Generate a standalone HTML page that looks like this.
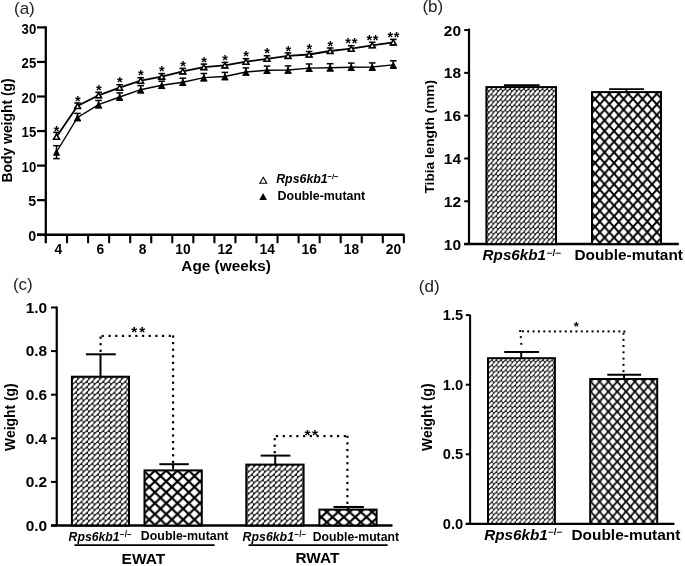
<!DOCTYPE html><html><head><meta charset="utf-8"><title>Figure</title><style>html,body{margin:0;padding:0;background:#fff;width:685px;height:566px;overflow:hidden}svg text{font-family:"Liberation Sans", sans-serif}</style></head><body><svg width="685" height="566" viewBox="0 0 685 566" style="display:block;font-family:'Liberation Sans',sans-serif;filter:grayscale(1) blur(0.35px)"><defs><pattern id="hb" patternUnits="userSpaceOnUse" x="0.6" y="0" width="4.64" height="5.3"><rect width="4.64" height="5.3" fill="#000"/><path d="M-3.550,-1.240L-1.090,-4.060M-3.550,4.060L-1.090,1.240M-3.550,9.360L-1.090,6.540M1.090,-1.240L3.550,-4.060M1.090,4.060L3.550,1.240M1.090,9.360L3.550,6.540M5.730,-1.240L8.190,-4.060M5.730,4.060L8.190,1.240M5.730,9.360L8.190,6.540" stroke="#fff" stroke-width="2.6" stroke-linecap="round"/></pattern><pattern id="hc" patternUnits="userSpaceOnUse" x="0" y="0" width="5.5" height="5.47"><rect width="5.5" height="5.47" fill="#000"/><path d="M-4.260,-1.235L-1.240,-4.235M-4.260,4.235L-1.240,1.235M-4.260,9.705L-1.240,6.705M1.240,-1.235L4.260,-4.235M1.240,4.235L4.260,1.235M1.240,9.705L4.260,6.705M6.740,-1.235L9.760,-4.235M6.740,4.235L9.760,1.235M6.740,9.705L9.760,6.705" stroke="#fff" stroke-width="2.85" stroke-linecap="round"/></pattern><pattern id="hd" patternUnits="userSpaceOnUse" x="1.0" y="0.5" width="4.64" height="5.08"><rect width="4.64" height="5.08" fill="#000"/><path d="M-3.535,-1.210L-1.105,-3.870M-3.535,3.870L-1.105,1.210M-3.535,8.950L-1.105,6.290M1.105,-1.210L3.535,-3.870M1.105,3.870L3.535,1.210M1.105,8.950L3.535,6.290M5.745,-1.210L8.175,-3.870M5.745,3.870L8.175,1.210M5.745,8.950L8.175,6.290" stroke="#fff" stroke-width="2.56" stroke-linecap="round"/></pattern><pattern id="cb" patternUnits="userSpaceOnUse" x="595.05" y="88.4" width="9.5" height="10.65"><rect width="9.5" height="10.65" fill="#fff"/><path d="M0,0L9.5,10.65M9.5,0L0,10.65" stroke="#000" stroke-width="2.0"/></pattern><pattern id="cc" patternUnits="userSpaceOnUse" x="149.25" y="476" width="11.3" height="10.9"><rect width="11.3" height="10.9" fill="#fff"/><path d="M0,0L11.3,10.9M11.3,0L0,10.9" stroke="#000" stroke-width="2.2"/></pattern><pattern id="cc2" patternUnits="userSpaceOnUse" x="321.25" y="517.1" width="11.3" height="10.2"><rect width="11.3" height="10.2" fill="#fff"/><path d="M0,0L11.3,10.2M11.3,0L0,10.2" stroke="#000" stroke-width="2.2"/></pattern><pattern id="cd" patternUnits="userSpaceOnUse" x="590.7" y="381.6" width="8.83" height="10.0"><rect width="8.83" height="10.0" fill="#fff"/><path d="M0,0L8.83,10.0M8.83,0L0,10.0" stroke="#000" stroke-width="1.8"/></pattern></defs><rect width="685" height="566" fill="#fff"/><text x="14.00" y="13.60" font-size="17" font-weight="normal" font-style="normal" text-anchor="start" fill="#222" >(a)</text>
<line x1="45.80" y1="26.30" x2="45.80" y2="243.20" stroke="#000" stroke-width="2.3" />
<line x1="37.00" y1="234.70" x2="45.80" y2="234.70" stroke="#000" stroke-width="2.2" />
<text x="36.20" y="240.90" font-size="14.2" font-weight="bold" font-style="normal" text-anchor="end" fill="#000" >0</text>
<line x1="37.00" y1="200.15" x2="45.80" y2="200.15" stroke="#000" stroke-width="2.2" />
<text x="36.20" y="206.35" font-size="14.2" font-weight="bold" font-style="normal" text-anchor="end" fill="#000" >5</text>
<line x1="37.00" y1="165.60" x2="45.80" y2="165.60" stroke="#000" stroke-width="2.2" />
<text x="36.20" y="171.80" font-size="14.2" font-weight="bold" font-style="normal" text-anchor="end" fill="#000" textLength="14.60" lengthAdjust="spacingAndGlyphs" >10</text>
<line x1="37.00" y1="131.05" x2="45.80" y2="131.05" stroke="#000" stroke-width="2.2" />
<text x="36.20" y="137.25" font-size="14.2" font-weight="bold" font-style="normal" text-anchor="end" fill="#000" textLength="14.60" lengthAdjust="spacingAndGlyphs" >15</text>
<line x1="37.00" y1="96.50" x2="45.80" y2="96.50" stroke="#000" stroke-width="2.2" />
<text x="36.20" y="102.70" font-size="14.2" font-weight="bold" font-style="normal" text-anchor="end" fill="#000" textLength="14.60" lengthAdjust="spacingAndGlyphs" >20</text>
<line x1="37.00" y1="61.95" x2="45.80" y2="61.95" stroke="#000" stroke-width="2.2" />
<text x="36.20" y="68.15" font-size="14.2" font-weight="bold" font-style="normal" text-anchor="end" fill="#000" textLength="14.60" lengthAdjust="spacingAndGlyphs" >25</text>
<line x1="37.00" y1="27.40" x2="45.80" y2="27.40" stroke="#000" stroke-width="2.2" />
<text x="36.20" y="33.60" font-size="14.2" font-weight="bold" font-style="normal" text-anchor="end" fill="#000" textLength="14.60" lengthAdjust="spacingAndGlyphs" >30</text>
<line x1="37.00" y1="234.70" x2="404.50" y2="234.70" stroke="#000" stroke-width="2.4" />
<line x1="67.05" y1="234.70" x2="67.05" y2="243.20" stroke="#000" stroke-width="2.1" />
<line x1="88.10" y1="234.70" x2="88.10" y2="243.20" stroke="#000" stroke-width="2.1" />
<line x1="109.15" y1="234.70" x2="109.15" y2="243.20" stroke="#000" stroke-width="2.1" />
<line x1="130.20" y1="234.70" x2="130.20" y2="243.20" stroke="#000" stroke-width="2.1" />
<line x1="151.25" y1="234.70" x2="151.25" y2="243.20" stroke="#000" stroke-width="2.1" />
<line x1="172.30" y1="234.70" x2="172.30" y2="243.20" stroke="#000" stroke-width="2.1" />
<line x1="193.35" y1="234.70" x2="193.35" y2="243.20" stroke="#000" stroke-width="2.1" />
<line x1="214.40" y1="234.70" x2="214.40" y2="243.20" stroke="#000" stroke-width="2.1" />
<line x1="235.45" y1="234.70" x2="235.45" y2="243.20" stroke="#000" stroke-width="2.1" />
<line x1="256.50" y1="234.70" x2="256.50" y2="243.20" stroke="#000" stroke-width="2.1" />
<line x1="277.55" y1="234.70" x2="277.55" y2="243.20" stroke="#000" stroke-width="2.1" />
<line x1="298.60" y1="234.70" x2="298.60" y2="243.20" stroke="#000" stroke-width="2.1" />
<line x1="319.65" y1="234.70" x2="319.65" y2="243.20" stroke="#000" stroke-width="2.1" />
<line x1="340.70" y1="234.70" x2="340.70" y2="243.20" stroke="#000" stroke-width="2.1" />
<line x1="361.75" y1="234.70" x2="361.75" y2="243.20" stroke="#000" stroke-width="2.1" />
<line x1="382.80" y1="234.70" x2="382.80" y2="243.20" stroke="#000" stroke-width="2.1" />
<line x1="403.85" y1="234.70" x2="403.85" y2="243.20" stroke="#000" stroke-width="2.1" />
<text x="58.30" y="254.00" font-size="13.8" font-weight="bold" font-style="normal" text-anchor="middle" fill="#000" >4</text>
<text x="100.40" y="254.00" font-size="13.8" font-weight="bold" font-style="normal" text-anchor="middle" fill="#000" >6</text>
<text x="142.50" y="254.00" font-size="13.8" font-weight="bold" font-style="normal" text-anchor="middle" fill="#000" >8</text>
<text x="183.00" y="254.00" font-size="13.8" font-weight="bold" font-style="normal" text-anchor="middle" fill="#000" >10</text>
<text x="225.10" y="254.00" font-size="13.8" font-weight="bold" font-style="normal" text-anchor="middle" fill="#000" >12</text>
<text x="267.20" y="254.00" font-size="13.8" font-weight="bold" font-style="normal" text-anchor="middle" fill="#000" >14</text>
<text x="309.30" y="254.00" font-size="13.8" font-weight="bold" font-style="normal" text-anchor="middle" fill="#000" >16</text>
<text x="351.40" y="254.00" font-size="13.8" font-weight="bold" font-style="normal" text-anchor="middle" fill="#000" >18</text>
<text x="393.50" y="254.00" font-size="13.8" font-weight="bold" font-style="normal" text-anchor="middle" fill="#000" >20</text>
<text x="181.30" y="270.80" font-size="15.3" font-weight="bold" font-style="normal" text-anchor="start" fill="#000" textLength="89.60" lengthAdjust="spacingAndGlyphs" >Age (weeks)</text>
<text transform="translate(12.4,182.4) rotate(-90)" x="0" y="0" font-size="14" font-weight="bold" textLength="104" lengthAdjust="spacingAndGlyphs">Body weight (g)</text>
<polyline fill="none" stroke="#000" stroke-width="1.4" points="56.50,152.00 77.55,117.50 98.60,104.60 119.65,97.00 140.70,89.70 161.75,85.30 182.80,82.30 203.85,77.60 224.90,76.50 245.95,72.00 267.00,70.20 288.05,70.00 309.10,68.10 330.15,67.80 351.20,67.20 372.25,67.00 393.30,64.90"/>
<polyline fill="none" stroke="#000" stroke-width="1.8" points="56.50,136.70 77.55,106.00 98.60,95.30 119.65,87.70 140.70,80.70 161.75,76.60 182.80,71.40 203.85,67.10 224.90,65.40 245.95,61.70 267.00,58.80 288.05,55.90 309.10,54.50 330.15,51.00 351.20,48.70 372.25,45.30 393.30,42.40"/>
<line x1="56.50" y1="145.70" x2="56.50" y2="158.60" stroke="#000" stroke-width="1.5" />
<line x1="53.20" y1="145.70" x2="59.80" y2="145.70" stroke="#000" stroke-width="1.5" />
<line x1="53.20" y1="158.60" x2="59.80" y2="158.60" stroke="#000" stroke-width="1.5" />
<polygon points="56.50,148.20 60.15,155.80 52.85,155.80" fill="#000"/>
<line x1="77.55" y1="113.40" x2="77.55" y2="120.50" stroke="#000" stroke-width="1.5" />
<line x1="74.25" y1="113.40" x2="80.85" y2="113.40" stroke="#000" stroke-width="1.5" />
<line x1="74.25" y1="120.50" x2="80.85" y2="120.50" stroke="#000" stroke-width="1.5" />
<polygon points="77.55,113.70 81.20,121.30 73.90,121.30" fill="#000"/>
<line x1="98.60" y1="100.50" x2="98.60" y2="107.60" stroke="#000" stroke-width="1.5" />
<line x1="95.30" y1="100.50" x2="101.90" y2="100.50" stroke="#000" stroke-width="1.5" />
<line x1="95.30" y1="107.60" x2="101.90" y2="107.60" stroke="#000" stroke-width="1.5" />
<polygon points="98.60,100.80 102.25,108.40 94.95,108.40" fill="#000"/>
<line x1="119.65" y1="92.90" x2="119.65" y2="100.00" stroke="#000" stroke-width="1.5" />
<line x1="116.35" y1="92.90" x2="122.95" y2="92.90" stroke="#000" stroke-width="1.5" />
<line x1="116.35" y1="100.00" x2="122.95" y2="100.00" stroke="#000" stroke-width="1.5" />
<polygon points="119.65,93.20 123.30,100.80 116.00,100.80" fill="#000"/>
<line x1="140.70" y1="85.60" x2="140.70" y2="92.70" stroke="#000" stroke-width="1.5" />
<line x1="137.40" y1="85.60" x2="144.00" y2="85.60" stroke="#000" stroke-width="1.5" />
<line x1="137.40" y1="92.70" x2="144.00" y2="92.70" stroke="#000" stroke-width="1.5" />
<polygon points="140.70,85.90 144.35,93.50 137.05,93.50" fill="#000"/>
<line x1="161.75" y1="81.20" x2="161.75" y2="88.30" stroke="#000" stroke-width="1.5" />
<line x1="158.45" y1="81.20" x2="165.05" y2="81.20" stroke="#000" stroke-width="1.5" />
<line x1="158.45" y1="88.30" x2="165.05" y2="88.30" stroke="#000" stroke-width="1.5" />
<polygon points="161.75,81.50 165.40,89.10 158.10,89.10" fill="#000"/>
<line x1="182.80" y1="78.20" x2="182.80" y2="85.30" stroke="#000" stroke-width="1.5" />
<line x1="179.50" y1="78.20" x2="186.10" y2="78.20" stroke="#000" stroke-width="1.5" />
<line x1="179.50" y1="85.30" x2="186.10" y2="85.30" stroke="#000" stroke-width="1.5" />
<polygon points="182.80,78.50 186.45,86.10 179.15,86.10" fill="#000"/>
<line x1="203.85" y1="73.50" x2="203.85" y2="80.60" stroke="#000" stroke-width="1.5" />
<line x1="200.55" y1="73.50" x2="207.15" y2="73.50" stroke="#000" stroke-width="1.5" />
<line x1="200.55" y1="80.60" x2="207.15" y2="80.60" stroke="#000" stroke-width="1.5" />
<polygon points="203.85,73.80 207.50,81.40 200.20,81.40" fill="#000"/>
<line x1="224.90" y1="72.40" x2="224.90" y2="79.50" stroke="#000" stroke-width="1.5" />
<line x1="221.60" y1="72.40" x2="228.20" y2="72.40" stroke="#000" stroke-width="1.5" />
<line x1="221.60" y1="79.50" x2="228.20" y2="79.50" stroke="#000" stroke-width="1.5" />
<polygon points="224.90,72.70 228.55,80.30 221.25,80.30" fill="#000"/>
<line x1="245.95" y1="67.90" x2="245.95" y2="75.00" stroke="#000" stroke-width="1.5" />
<line x1="242.65" y1="67.90" x2="249.25" y2="67.90" stroke="#000" stroke-width="1.5" />
<line x1="242.65" y1="75.00" x2="249.25" y2="75.00" stroke="#000" stroke-width="1.5" />
<polygon points="245.95,68.20 249.60,75.80 242.30,75.80" fill="#000"/>
<line x1="267.00" y1="66.10" x2="267.00" y2="73.20" stroke="#000" stroke-width="1.5" />
<line x1="263.70" y1="66.10" x2="270.30" y2="66.10" stroke="#000" stroke-width="1.5" />
<line x1="263.70" y1="73.20" x2="270.30" y2="73.20" stroke="#000" stroke-width="1.5" />
<polygon points="267.00,66.40 270.65,74.00 263.35,74.00" fill="#000"/>
<line x1="288.05" y1="65.90" x2="288.05" y2="73.00" stroke="#000" stroke-width="1.5" />
<line x1="284.75" y1="65.90" x2="291.35" y2="65.90" stroke="#000" stroke-width="1.5" />
<line x1="284.75" y1="73.00" x2="291.35" y2="73.00" stroke="#000" stroke-width="1.5" />
<polygon points="288.05,66.20 291.70,73.80 284.40,73.80" fill="#000"/>
<line x1="309.10" y1="64.00" x2="309.10" y2="71.10" stroke="#000" stroke-width="1.5" />
<line x1="305.80" y1="64.00" x2="312.40" y2="64.00" stroke="#000" stroke-width="1.5" />
<line x1="305.80" y1="71.10" x2="312.40" y2="71.10" stroke="#000" stroke-width="1.5" />
<polygon points="309.10,64.30 312.75,71.90 305.45,71.90" fill="#000"/>
<line x1="330.15" y1="63.70" x2="330.15" y2="70.80" stroke="#000" stroke-width="1.5" />
<line x1="326.85" y1="63.70" x2="333.45" y2="63.70" stroke="#000" stroke-width="1.5" />
<line x1="326.85" y1="70.80" x2="333.45" y2="70.80" stroke="#000" stroke-width="1.5" />
<polygon points="330.15,64.00 333.80,71.60 326.50,71.60" fill="#000"/>
<line x1="351.20" y1="63.10" x2="351.20" y2="70.20" stroke="#000" stroke-width="1.5" />
<line x1="347.90" y1="63.10" x2="354.50" y2="63.10" stroke="#000" stroke-width="1.5" />
<line x1="347.90" y1="70.20" x2="354.50" y2="70.20" stroke="#000" stroke-width="1.5" />
<polygon points="351.20,63.40 354.85,71.00 347.55,71.00" fill="#000"/>
<line x1="372.25" y1="62.90" x2="372.25" y2="70.00" stroke="#000" stroke-width="1.5" />
<line x1="368.95" y1="62.90" x2="375.55" y2="62.90" stroke="#000" stroke-width="1.5" />
<line x1="368.95" y1="70.00" x2="375.55" y2="70.00" stroke="#000" stroke-width="1.5" />
<polygon points="372.25,63.20 375.90,70.80 368.60,70.80" fill="#000"/>
<line x1="393.30" y1="60.80" x2="393.30" y2="67.90" stroke="#000" stroke-width="1.5" />
<line x1="390.00" y1="60.80" x2="396.60" y2="60.80" stroke="#000" stroke-width="1.5" />
<line x1="390.00" y1="67.90" x2="396.60" y2="67.90" stroke="#000" stroke-width="1.5" />
<polygon points="393.30,61.10 396.95,68.70 389.65,68.70" fill="#000"/>
<line x1="56.50" y1="132.40" x2="56.50" y2="138.90" stroke="#000" stroke-width="1.5" />
<line x1="53.20" y1="132.40" x2="59.80" y2="132.40" stroke="#000" stroke-width="1.5" />
<line x1="53.20" y1="138.90" x2="59.80" y2="138.90" stroke="#000" stroke-width="1.5" />
<polygon points="56.50,134.20 59.40,139.20 53.60,139.20" fill="#fff" stroke="#000" stroke-width="1.6" stroke-linejoin="miter" stroke-miterlimit="3"/>
<text x="56.70" y="136.32" font-size="14.5" font-weight="bold" text-anchor="middle">*</text>
<line x1="77.55" y1="103.00" x2="77.55" y2="108.20" stroke="#000" stroke-width="1.5" />
<line x1="74.25" y1="103.00" x2="80.85" y2="103.00" stroke="#000" stroke-width="1.5" />
<line x1="74.25" y1="108.20" x2="80.85" y2="108.20" stroke="#000" stroke-width="1.5" />
<polygon points="77.55,103.50 80.45,108.50 74.65,108.50" fill="#fff" stroke="#000" stroke-width="1.6" stroke-linejoin="miter" stroke-miterlimit="3"/>
<text x="77.75" y="105.62" font-size="14.5" font-weight="bold" text-anchor="middle">*</text>
<line x1="98.60" y1="92.30" x2="98.60" y2="97.50" stroke="#000" stroke-width="1.5" />
<line x1="95.30" y1="92.30" x2="101.90" y2="92.30" stroke="#000" stroke-width="1.5" />
<line x1="95.30" y1="97.50" x2="101.90" y2="97.50" stroke="#000" stroke-width="1.5" />
<polygon points="98.60,92.80 101.50,97.80 95.70,97.80" fill="#fff" stroke="#000" stroke-width="1.6" stroke-linejoin="miter" stroke-miterlimit="3"/>
<text x="98.80" y="94.92" font-size="14.5" font-weight="bold" text-anchor="middle">*</text>
<line x1="119.65" y1="84.70" x2="119.65" y2="89.90" stroke="#000" stroke-width="1.5" />
<line x1="116.35" y1="84.70" x2="122.95" y2="84.70" stroke="#000" stroke-width="1.5" />
<line x1="116.35" y1="89.90" x2="122.95" y2="89.90" stroke="#000" stroke-width="1.5" />
<polygon points="119.65,85.20 122.55,90.20 116.75,90.20" fill="#fff" stroke="#000" stroke-width="1.6" stroke-linejoin="miter" stroke-miterlimit="3"/>
<text x="119.85" y="87.32" font-size="14.5" font-weight="bold" text-anchor="middle">*</text>
<line x1="140.70" y1="77.70" x2="140.70" y2="82.90" stroke="#000" stroke-width="1.5" />
<line x1="137.40" y1="77.70" x2="144.00" y2="77.70" stroke="#000" stroke-width="1.5" />
<line x1="137.40" y1="82.90" x2="144.00" y2="82.90" stroke="#000" stroke-width="1.5" />
<polygon points="140.70,78.20 143.60,83.20 137.80,83.20" fill="#fff" stroke="#000" stroke-width="1.6" stroke-linejoin="miter" stroke-miterlimit="3"/>
<text x="140.90" y="80.32" font-size="14.5" font-weight="bold" text-anchor="middle">*</text>
<line x1="161.75" y1="73.60" x2="161.75" y2="78.80" stroke="#000" stroke-width="1.5" />
<line x1="158.45" y1="73.60" x2="165.05" y2="73.60" stroke="#000" stroke-width="1.5" />
<line x1="158.45" y1="78.80" x2="165.05" y2="78.80" stroke="#000" stroke-width="1.5" />
<polygon points="161.75,74.10 164.65,79.10 158.85,79.10" fill="#fff" stroke="#000" stroke-width="1.6" stroke-linejoin="miter" stroke-miterlimit="3"/>
<text x="161.95" y="76.22" font-size="14.5" font-weight="bold" text-anchor="middle">*</text>
<line x1="182.80" y1="68.40" x2="182.80" y2="73.60" stroke="#000" stroke-width="1.5" />
<line x1="179.50" y1="68.40" x2="186.10" y2="68.40" stroke="#000" stroke-width="1.5" />
<line x1="179.50" y1="73.60" x2="186.10" y2="73.60" stroke="#000" stroke-width="1.5" />
<polygon points="182.80,68.90 185.70,73.90 179.90,73.90" fill="#fff" stroke="#000" stroke-width="1.6" stroke-linejoin="miter" stroke-miterlimit="3"/>
<text x="183.00" y="71.02" font-size="14.5" font-weight="bold" text-anchor="middle">*</text>
<line x1="203.85" y1="64.10" x2="203.85" y2="69.30" stroke="#000" stroke-width="1.5" />
<line x1="200.55" y1="64.10" x2="207.15" y2="64.10" stroke="#000" stroke-width="1.5" />
<line x1="200.55" y1="69.30" x2="207.15" y2="69.30" stroke="#000" stroke-width="1.5" />
<polygon points="203.85,64.60 206.75,69.60 200.95,69.60" fill="#fff" stroke="#000" stroke-width="1.6" stroke-linejoin="miter" stroke-miterlimit="3"/>
<text x="204.05" y="66.72" font-size="14.5" font-weight="bold" text-anchor="middle">*</text>
<line x1="224.90" y1="62.40" x2="224.90" y2="67.60" stroke="#000" stroke-width="1.5" />
<line x1="221.60" y1="62.40" x2="228.20" y2="62.40" stroke="#000" stroke-width="1.5" />
<line x1="221.60" y1="67.60" x2="228.20" y2="67.60" stroke="#000" stroke-width="1.5" />
<polygon points="224.90,62.90 227.80,67.90 222.00,67.90" fill="#fff" stroke="#000" stroke-width="1.6" stroke-linejoin="miter" stroke-miterlimit="3"/>
<text x="225.10" y="65.02" font-size="14.5" font-weight="bold" text-anchor="middle">*</text>
<line x1="245.95" y1="58.70" x2="245.95" y2="63.90" stroke="#000" stroke-width="1.5" />
<line x1="242.65" y1="58.70" x2="249.25" y2="58.70" stroke="#000" stroke-width="1.5" />
<line x1="242.65" y1="63.90" x2="249.25" y2="63.90" stroke="#000" stroke-width="1.5" />
<polygon points="245.95,59.20 248.85,64.20 243.05,64.20" fill="#fff" stroke="#000" stroke-width="1.6" stroke-linejoin="miter" stroke-miterlimit="3"/>
<text x="246.15" y="61.32" font-size="14.5" font-weight="bold" text-anchor="middle">*</text>
<line x1="267.00" y1="55.80" x2="267.00" y2="61.00" stroke="#000" stroke-width="1.5" />
<line x1="263.70" y1="55.80" x2="270.30" y2="55.80" stroke="#000" stroke-width="1.5" />
<line x1="263.70" y1="61.00" x2="270.30" y2="61.00" stroke="#000" stroke-width="1.5" />
<polygon points="267.00,56.30 269.90,61.30 264.10,61.30" fill="#fff" stroke="#000" stroke-width="1.6" stroke-linejoin="miter" stroke-miterlimit="3"/>
<text x="267.20" y="58.42" font-size="14.5" font-weight="bold" text-anchor="middle">*</text>
<line x1="288.05" y1="52.90" x2="288.05" y2="58.10" stroke="#000" stroke-width="1.5" />
<line x1="284.75" y1="52.90" x2="291.35" y2="52.90" stroke="#000" stroke-width="1.5" />
<line x1="284.75" y1="58.10" x2="291.35" y2="58.10" stroke="#000" stroke-width="1.5" />
<polygon points="288.05,53.40 290.95,58.40 285.15,58.40" fill="#fff" stroke="#000" stroke-width="1.6" stroke-linejoin="miter" stroke-miterlimit="3"/>
<text x="288.25" y="55.52" font-size="14.5" font-weight="bold" text-anchor="middle">*</text>
<line x1="309.10" y1="51.50" x2="309.10" y2="56.70" stroke="#000" stroke-width="1.5" />
<line x1="305.80" y1="51.50" x2="312.40" y2="51.50" stroke="#000" stroke-width="1.5" />
<line x1="305.80" y1="56.70" x2="312.40" y2="56.70" stroke="#000" stroke-width="1.5" />
<polygon points="309.10,52.00 312.00,57.00 306.20,57.00" fill="#fff" stroke="#000" stroke-width="1.6" stroke-linejoin="miter" stroke-miterlimit="3"/>
<text x="309.30" y="54.12" font-size="14.5" font-weight="bold" text-anchor="middle">*</text>
<line x1="330.15" y1="48.00" x2="330.15" y2="53.20" stroke="#000" stroke-width="1.5" />
<line x1="326.85" y1="48.00" x2="333.45" y2="48.00" stroke="#000" stroke-width="1.5" />
<line x1="326.85" y1="53.20" x2="333.45" y2="53.20" stroke="#000" stroke-width="1.5" />
<polygon points="330.15,48.50 333.05,53.50 327.25,53.50" fill="#fff" stroke="#000" stroke-width="1.6" stroke-linejoin="miter" stroke-miterlimit="3"/>
<text x="330.35" y="50.62" font-size="14.5" font-weight="bold" text-anchor="middle">*</text>
<line x1="351.20" y1="45.70" x2="351.20" y2="50.90" stroke="#000" stroke-width="1.5" />
<line x1="347.90" y1="45.70" x2="354.50" y2="45.70" stroke="#000" stroke-width="1.5" />
<line x1="347.90" y1="50.90" x2="354.50" y2="50.90" stroke="#000" stroke-width="1.5" />
<polygon points="351.20,46.20 354.10,51.20 348.30,51.20" fill="#fff" stroke="#000" stroke-width="1.6" stroke-linejoin="miter" stroke-miterlimit="3"/>
<text x="348.20" y="48.32" font-size="14.5" font-weight="bold" text-anchor="middle">*</text>
<text x="354.60" y="48.32" font-size="14.5" font-weight="bold" text-anchor="middle">*</text>
<line x1="372.25" y1="42.30" x2="372.25" y2="47.50" stroke="#000" stroke-width="1.5" />
<line x1="368.95" y1="42.30" x2="375.55" y2="42.30" stroke="#000" stroke-width="1.5" />
<line x1="368.95" y1="47.50" x2="375.55" y2="47.50" stroke="#000" stroke-width="1.5" />
<polygon points="372.25,42.80 375.15,47.80 369.35,47.80" fill="#fff" stroke="#000" stroke-width="1.6" stroke-linejoin="miter" stroke-miterlimit="3"/>
<text x="369.25" y="44.92" font-size="14.5" font-weight="bold" text-anchor="middle">*</text>
<text x="375.65" y="44.92" font-size="14.5" font-weight="bold" text-anchor="middle">*</text>
<line x1="393.30" y1="39.40" x2="393.30" y2="44.60" stroke="#000" stroke-width="1.5" />
<line x1="390.00" y1="39.40" x2="396.60" y2="39.40" stroke="#000" stroke-width="1.5" />
<line x1="390.00" y1="44.60" x2="396.60" y2="44.60" stroke="#000" stroke-width="1.5" />
<polygon points="393.30,39.90 396.20,44.90 390.40,44.90" fill="#fff" stroke="#000" stroke-width="1.6" stroke-linejoin="miter" stroke-miterlimit="3"/>
<text x="390.30" y="42.02" font-size="14.5" font-weight="bold" text-anchor="middle">*</text>
<text x="396.70" y="42.02" font-size="14.5" font-weight="bold" text-anchor="middle">*</text>
<polygon points="263.30,177.30 266.75,183.30 259.85,183.30" fill="#fff" stroke="#000" stroke-width="1.1" stroke-linejoin="miter" stroke-miterlimit="3"/>
<polygon points="263.10,192.90 266.90,199.90 259.30,199.90" fill="#000"/>
<text x="276.20" y="182.70" font-size="12.2" font-weight="bold" font-style="italic" text-anchor="start" fill="#000" textLength="51.50" lengthAdjust="spacingAndGlyphs" >Rps6kb1</text>
<text x="327.40" y="179.06" font-size="8" font-weight="bold" font-style="normal" text-anchor="start" fill="#000" textLength="11.30" lengthAdjust="spacingAndGlyphs" >&#8722;/&#8722;</text>
<text x="277.60" y="200.00" font-size="12.2" font-weight="bold" font-style="normal" text-anchor="start" fill="#000" textLength="87.60" lengthAdjust="spacingAndGlyphs" >Double-mutant</text>
<text x="422.40" y="11.80" font-size="17" font-weight="normal" font-style="normal" text-anchor="start" fill="#222" >(b)</text>
<line x1="469.00" y1="28.60" x2="469.00" y2="244.10" stroke="#000" stroke-width="2.2" />
<line x1="464.20" y1="244.10" x2="469.00" y2="244.10" stroke="#000" stroke-width="2.0" />
<text x="461.00" y="249.70" font-size="15.5" font-weight="bold" font-style="normal" text-anchor="end" fill="#000" textLength="17.20" lengthAdjust="spacingAndGlyphs" >10</text>
<line x1="464.20" y1="201.29" x2="469.00" y2="201.29" stroke="#000" stroke-width="2.0" />
<text x="461.00" y="206.89" font-size="15.5" font-weight="bold" font-style="normal" text-anchor="end" fill="#000" textLength="17.20" lengthAdjust="spacingAndGlyphs" >12</text>
<line x1="464.20" y1="158.48" x2="469.00" y2="158.48" stroke="#000" stroke-width="2.0" />
<text x="461.00" y="164.08" font-size="15.5" font-weight="bold" font-style="normal" text-anchor="end" fill="#000" textLength="17.20" lengthAdjust="spacingAndGlyphs" >14</text>
<line x1="464.20" y1="115.67" x2="469.00" y2="115.67" stroke="#000" stroke-width="2.0" />
<text x="461.00" y="121.27" font-size="15.5" font-weight="bold" font-style="normal" text-anchor="end" fill="#000" textLength="17.20" lengthAdjust="spacingAndGlyphs" >16</text>
<line x1="464.20" y1="72.86" x2="469.00" y2="72.86" stroke="#000" stroke-width="2.0" />
<text x="461.00" y="78.46" font-size="15.5" font-weight="bold" font-style="normal" text-anchor="end" fill="#000" textLength="17.20" lengthAdjust="spacingAndGlyphs" >18</text>
<line x1="464.20" y1="30.05" x2="469.00" y2="30.05" stroke="#000" stroke-width="2.0" />
<text x="461.00" y="35.65" font-size="15.5" font-weight="bold" font-style="normal" text-anchor="end" fill="#000" textLength="17.20" lengthAdjust="spacingAndGlyphs" >20</text>
<line x1="464.20" y1="244.10" x2="678.80" y2="244.10" stroke="#000" stroke-width="2.5" />
<rect x="486.40" y="87.10" width="69.60" height="157.00" fill="url(#hb)" stroke="#000" stroke-width="2"/>
<rect x="592.00" y="92.10" width="69.00" height="152.00" fill="url(#cb)" stroke="#000" stroke-width="2"/>
<line x1="503.90" y1="85.20" x2="539.60" y2="85.20" stroke="#000" stroke-width="1.8" />
<line x1="609.10" y1="89.20" x2="644.00" y2="89.20" stroke="#000" stroke-width="1.8" />
<line x1="626.30" y1="89.20" x2="626.30" y2="92.00" stroke="#000" stroke-width="1.8" />
<text transform="translate(434,193.5) rotate(-90)" x="0" y="0" font-size="13.5" font-weight="bold" textLength="113.5" lengthAdjust="spacingAndGlyphs">Tibia length (mm)</text>
<text x="482.60" y="260.20" font-size="14.5" font-weight="bold" font-style="italic" text-anchor="start" fill="#000" textLength="63.50" lengthAdjust="spacingAndGlyphs" >Rps6kb1</text>
<text x="546.60" y="255.53" font-size="9" font-weight="bold" font-style="normal" text-anchor="start" fill="#000" textLength="14.70" lengthAdjust="spacingAndGlyphs" >&#8722;/&#8722;</text>
<text x="574.50" y="260.40" font-size="14.5" font-weight="bold" font-style="normal" text-anchor="start" fill="#000" textLength="108.40" lengthAdjust="spacingAndGlyphs" >Double-mutant</text>
<text x="12.90" y="289.70" font-size="17" font-weight="normal" font-style="normal" text-anchor="start" fill="#222" >(c)</text>
<line x1="56.75" y1="306.50" x2="56.75" y2="525.50" stroke="#000" stroke-width="2.2" />
<line x1="51.00" y1="525.50" x2="56.75" y2="525.50" stroke="#000" stroke-width="2.0" />
<text x="47.20" y="530.70" font-size="14" font-weight="bold" font-style="normal" text-anchor="end" fill="#000" textLength="21.50" lengthAdjust="spacingAndGlyphs" >0.0</text>
<line x1="51.00" y1="481.90" x2="56.75" y2="481.90" stroke="#000" stroke-width="2.0" />
<text x="47.20" y="487.10" font-size="14" font-weight="bold" font-style="normal" text-anchor="end" fill="#000" textLength="21.50" lengthAdjust="spacingAndGlyphs" >0.2</text>
<line x1="51.00" y1="438.30" x2="56.75" y2="438.30" stroke="#000" stroke-width="2.0" />
<text x="47.20" y="443.50" font-size="14" font-weight="bold" font-style="normal" text-anchor="end" fill="#000" textLength="21.50" lengthAdjust="spacingAndGlyphs" >0.4</text>
<line x1="51.00" y1="394.70" x2="56.75" y2="394.70" stroke="#000" stroke-width="2.0" />
<text x="47.20" y="399.90" font-size="14" font-weight="bold" font-style="normal" text-anchor="end" fill="#000" textLength="21.50" lengthAdjust="spacingAndGlyphs" >0.6</text>
<line x1="51.00" y1="351.10" x2="56.75" y2="351.10" stroke="#000" stroke-width="2.0" />
<text x="47.20" y="356.30" font-size="14" font-weight="bold" font-style="normal" text-anchor="end" fill="#000" textLength="21.50" lengthAdjust="spacingAndGlyphs" >0.8</text>
<line x1="51.00" y1="307.50" x2="56.75" y2="307.50" stroke="#000" stroke-width="2.0" />
<text x="47.20" y="312.70" font-size="14" font-weight="bold" font-style="normal" text-anchor="end" fill="#000" textLength="21.50" lengthAdjust="spacingAndGlyphs" >1.0</text>
<line x1="51.00" y1="525.50" x2="392.50" y2="525.50" stroke="#000" stroke-width="2.5" />
<rect x="71.90" y="376.70" width="57.10" height="148.80" fill="url(#hc)" stroke="#000" stroke-width="2"/>
<rect x="144.50" y="470.40" width="57.30" height="55.10" fill="url(#cc)" stroke="#000" stroke-width="2"/>
<rect x="246.30" y="464.60" width="57.30" height="60.90" fill="url(#hc)" stroke="#000" stroke-width="2"/>
<rect x="319.40" y="509.60" width="57.20" height="15.90" fill="url(#cc2)" stroke="#000" stroke-width="2"/>
<line x1="100.50" y1="354.30" x2="100.50" y2="376.00" stroke="#000" stroke-width="2" />
<line x1="85.90" y1="354.30" x2="115.80" y2="354.30" stroke="#000" stroke-width="2" />
<line x1="173.10" y1="464.20" x2="173.10" y2="469.40" stroke="#000" stroke-width="2" />
<line x1="159.40" y1="464.20" x2="188.80" y2="464.20" stroke="#000" stroke-width="2" />
<line x1="275.20" y1="455.60" x2="275.20" y2="464.10" stroke="#000" stroke-width="2" />
<line x1="260.70" y1="455.60" x2="290.40" y2="455.60" stroke="#000" stroke-width="2" />
<line x1="348.00" y1="507.00" x2="348.00" y2="509.10" stroke="#000" stroke-width="2" />
<line x1="333.50" y1="507.00" x2="363.90" y2="507.00" stroke="#000" stroke-width="2.1" />
<rect x="99.50" y="349.70" width="2.2" height="2.2" fill="#000"/>
<rect x="99.50" y="343.10" width="2.2" height="2.2" fill="#000"/>
<rect x="99.50" y="336.60" width="2.2" height="2.2" fill="#000"/>
<rect x="101.60" y="334.90" width="2.2" height="2.2" fill="#000"/>
<rect x="108.50" y="334.80" width="2.2" height="2.2" fill="#000"/>
<rect x="115.19" y="334.80" width="2.2" height="2.2" fill="#000"/>
<rect x="121.88" y="334.80" width="2.2" height="2.2" fill="#000"/>
<rect x="128.57" y="334.80" width="2.2" height="2.2" fill="#000"/>
<rect x="135.26" y="334.80" width="2.2" height="2.2" fill="#000"/>
<rect x="141.95" y="334.80" width="2.2" height="2.2" fill="#000"/>
<rect x="148.64" y="334.80" width="2.2" height="2.2" fill="#000"/>
<rect x="155.33" y="334.80" width="2.2" height="2.2" fill="#000"/>
<rect x="162.02" y="334.80" width="2.2" height="2.2" fill="#000"/>
<rect x="168.71" y="334.80" width="2.2" height="2.2" fill="#000"/>
<rect x="172.00" y="335.40" width="2.2" height="2.2" fill="#000"/>
<rect x="172.00" y="342.00" width="2.2" height="2.2" fill="#000"/>
<rect x="172.00" y="348.60" width="2.2" height="2.2" fill="#000"/>
<rect x="172.00" y="355.20" width="2.2" height="2.2" fill="#000"/>
<rect x="172.00" y="361.80" width="2.2" height="2.2" fill="#000"/>
<rect x="172.00" y="368.40" width="2.2" height="2.2" fill="#000"/>
<rect x="172.00" y="375.00" width="2.2" height="2.2" fill="#000"/>
<rect x="172.00" y="381.60" width="2.2" height="2.2" fill="#000"/>
<rect x="172.00" y="388.20" width="2.2" height="2.2" fill="#000"/>
<rect x="172.00" y="394.80" width="2.2" height="2.2" fill="#000"/>
<rect x="172.00" y="401.40" width="2.2" height="2.2" fill="#000"/>
<rect x="172.00" y="408.00" width="2.2" height="2.2" fill="#000"/>
<rect x="172.00" y="414.60" width="2.2" height="2.2" fill="#000"/>
<rect x="172.00" y="421.20" width="2.2" height="2.2" fill="#000"/>
<rect x="172.00" y="427.80" width="2.2" height="2.2" fill="#000"/>
<rect x="172.00" y="434.40" width="2.2" height="2.2" fill="#000"/>
<rect x="172.00" y="441.00" width="2.2" height="2.2" fill="#000"/>
<rect x="172.00" y="447.60" width="2.2" height="2.2" fill="#000"/>
<rect x="172.00" y="454.20" width="2.2" height="2.2" fill="#000"/>
<rect x="172.00" y="460.80" width="2.2" height="2.2" fill="#000"/>
<rect x="273.60" y="451.10" width="2.2" height="2.2" fill="#000"/>
<rect x="273.60" y="444.60" width="2.2" height="2.2" fill="#000"/>
<rect x="273.60" y="438.10" width="2.2" height="2.2" fill="#000"/>
<rect x="275.90" y="435.00" width="2.2" height="2.2" fill="#000"/>
<rect x="282.70" y="435.00" width="2.2" height="2.2" fill="#000"/>
<rect x="289.48" y="435.00" width="2.2" height="2.2" fill="#000"/>
<rect x="296.26" y="435.00" width="2.2" height="2.2" fill="#000"/>
<rect x="303.04" y="435.00" width="2.2" height="2.2" fill="#000"/>
<rect x="309.82" y="435.00" width="2.2" height="2.2" fill="#000"/>
<rect x="316.60" y="435.00" width="2.2" height="2.2" fill="#000"/>
<rect x="323.38" y="435.00" width="2.2" height="2.2" fill="#000"/>
<rect x="330.16" y="435.00" width="2.2" height="2.2" fill="#000"/>
<rect x="336.94" y="435.00" width="2.2" height="2.2" fill="#000"/>
<rect x="343.72" y="435.00" width="2.2" height="2.2" fill="#000"/>
<rect x="346.30" y="435.70" width="2.2" height="2.2" fill="#000"/>
<rect x="346.30" y="442.30" width="2.2" height="2.2" fill="#000"/>
<rect x="346.30" y="448.90" width="2.2" height="2.2" fill="#000"/>
<rect x="346.30" y="455.50" width="2.2" height="2.2" fill="#000"/>
<rect x="346.30" y="462.10" width="2.2" height="2.2" fill="#000"/>
<rect x="346.30" y="468.70" width="2.2" height="2.2" fill="#000"/>
<rect x="346.30" y="475.30" width="2.2" height="2.2" fill="#000"/>
<rect x="346.30" y="481.90" width="2.2" height="2.2" fill="#000"/>
<rect x="346.30" y="488.50" width="2.2" height="2.2" fill="#000"/>
<rect x="346.30" y="495.10" width="2.2" height="2.2" fill="#000"/>
<rect x="346.30" y="501.70" width="2.2" height="2.2" fill="#000"/>
<text x="134.30" y="336.53" font-size="15.5" font-weight="bold" text-anchor="middle">*</text>
<text x="142.20" y="336.53" font-size="15.5" font-weight="bold" text-anchor="middle">*</text>
<text x="307.40" y="440.33" font-size="15.5" font-weight="bold" text-anchor="middle">*</text>
<text x="315.00" y="440.33" font-size="15.5" font-weight="bold" text-anchor="middle">*</text>
<text transform="translate(15.0,450.9) rotate(-90)" x="0" y="0" font-size="13.8" font-weight="bold" textLength="67.6" lengthAdjust="spacingAndGlyphs">Weight (g)</text>
<text x="68.60" y="541.00" font-size="12" font-weight="bold" font-style="italic" text-anchor="start" fill="#000" textLength="51.00" lengthAdjust="spacingAndGlyphs" >Rps6kb1</text>
<text x="119.80" y="536.97" font-size="8.3" font-weight="bold" font-style="normal" text-anchor="start" fill="#000" textLength="12.00" lengthAdjust="spacingAndGlyphs" >&#8722;/&#8722;</text>
<text x="140.80" y="540.20" font-size="12.5" font-weight="bold" font-style="normal" text-anchor="start" fill="#000" textLength="87.60" lengthAdjust="spacingAndGlyphs" >Double-mutant</text>
<text x="242.60" y="541.00" font-size="12" font-weight="bold" font-style="italic" text-anchor="start" fill="#000" textLength="51.40" lengthAdjust="spacingAndGlyphs" >Rps6kb1</text>
<text x="294.60" y="536.97" font-size="8.3" font-weight="bold" font-style="normal" text-anchor="start" fill="#000" textLength="11.50" lengthAdjust="spacingAndGlyphs" >&#8722;/&#8722;</text>
<text x="312.80" y="540.60" font-size="12.4" font-weight="bold" font-style="normal" text-anchor="start" fill="#000" textLength="86.20" lengthAdjust="spacingAndGlyphs" >Double-mutant</text>
<line x1="74.50" y1="545.20" x2="214.60" y2="545.20" stroke="#000" stroke-width="1.8" />
<line x1="248.60" y1="545.20" x2="387.60" y2="545.20" stroke="#000" stroke-width="1.8" />
<text x="121.60" y="563.80" font-size="14.2" font-weight="bold" font-style="normal" text-anchor="start" fill="#000" textLength="43.60" lengthAdjust="spacingAndGlyphs" >EWAT</text>
<text x="295.50" y="563.20" font-size="14.2" font-weight="bold" font-style="normal" text-anchor="start" fill="#000" textLength="43.80" lengthAdjust="spacingAndGlyphs" >RWAT</text>
<text x="418.80" y="292.00" font-size="17" font-weight="normal" font-style="normal" text-anchor="start" fill="#222" >(d)</text>
<line x1="470.10" y1="314.80" x2="470.10" y2="523.90" stroke="#000" stroke-width="2.0" />
<line x1="465.80" y1="523.90" x2="470.10" y2="523.90" stroke="#000" stroke-width="2.0" />
<text x="463.20" y="528.90" font-size="13.8" font-weight="bold" font-style="normal" text-anchor="end" fill="#000" textLength="20.40" lengthAdjust="spacingAndGlyphs" >0.0</text>
<line x1="465.80" y1="454.30" x2="470.10" y2="454.30" stroke="#000" stroke-width="2.0" />
<text x="463.20" y="459.30" font-size="13.8" font-weight="bold" font-style="normal" text-anchor="end" fill="#000" textLength="20.40" lengthAdjust="spacingAndGlyphs" >0.5</text>
<line x1="465.80" y1="384.70" x2="470.10" y2="384.70" stroke="#000" stroke-width="2.0" />
<text x="463.20" y="389.70" font-size="13.8" font-weight="bold" font-style="normal" text-anchor="end" fill="#000" textLength="20.40" lengthAdjust="spacingAndGlyphs" >1.0</text>
<line x1="465.80" y1="315.10" x2="470.10" y2="315.10" stroke="#000" stroke-width="2.0" />
<text x="463.20" y="320.10" font-size="13.8" font-weight="bold" font-style="normal" text-anchor="end" fill="#000" textLength="20.40" lengthAdjust="spacingAndGlyphs" >1.5</text>
<line x1="465.80" y1="523.90" x2="674.50" y2="523.90" stroke="#000" stroke-width="2.4" />
<rect x="488.00" y="358.20" width="66.90" height="165.70" fill="url(#hd)" stroke="#000" stroke-width="2"/>
<rect x="590.20" y="379.00" width="67.00" height="144.90" fill="url(#cd)" stroke="#000" stroke-width="2"/>
<line x1="521.20" y1="352.10" x2="521.20" y2="357.70" stroke="#000" stroke-width="2" />
<line x1="504.20" y1="352.10" x2="539.10" y2="352.10" stroke="#000" stroke-width="2" />
<line x1="624.00" y1="374.70" x2="624.00" y2="378.70" stroke="#000" stroke-width="2" />
<line x1="607.30" y1="374.70" x2="641.20" y2="374.70" stroke="#000" stroke-width="2" />
<rect x="519.20" y="330.00" width="2" height="2" fill="#000"/>
<rect x="521.90" y="330.30" width="2" height="2" fill="#000"/>
<rect x="519.80" y="336.10" width="2" height="2" fill="#000"/>
<rect x="520.30" y="342.80" width="2" height="2" fill="#000"/>
<rect x="623.40" y="330.50" width="2" height="2" fill="#000"/>
<rect x="622.50" y="332.70" width="2" height="2" fill="#000"/>
<rect x="527.20" y="330.40" width="2.0" height="2.0" fill="#000"/>
<rect x="532.56" y="330.40" width="2.0" height="2.0" fill="#000"/>
<rect x="537.92" y="330.40" width="2.0" height="2.0" fill="#000"/>
<rect x="543.28" y="330.40" width="2.0" height="2.0" fill="#000"/>
<rect x="548.64" y="330.40" width="2.0" height="2.0" fill="#000"/>
<rect x="554.00" y="330.40" width="2.0" height="2.0" fill="#000"/>
<rect x="559.36" y="330.40" width="2.0" height="2.0" fill="#000"/>
<rect x="564.72" y="330.40" width="2.0" height="2.0" fill="#000"/>
<rect x="570.08" y="330.40" width="2.0" height="2.0" fill="#000"/>
<rect x="575.44" y="330.40" width="2.0" height="2.0" fill="#000"/>
<rect x="580.80" y="330.40" width="2.0" height="2.0" fill="#000"/>
<rect x="586.16" y="330.40" width="2.0" height="2.0" fill="#000"/>
<rect x="591.52" y="330.40" width="2.0" height="2.0" fill="#000"/>
<rect x="596.88" y="330.40" width="2.0" height="2.0" fill="#000"/>
<rect x="602.24" y="330.40" width="2.0" height="2.0" fill="#000"/>
<rect x="607.60" y="330.40" width="2.0" height="2.0" fill="#000"/>
<rect x="612.96" y="330.40" width="2.0" height="2.0" fill="#000"/>
<rect x="618.32" y="330.40" width="2.0" height="2.0" fill="#000"/>
<rect x="622.50" y="338.80" width="2.0" height="2.0" fill="#000"/>
<rect x="622.50" y="345.07" width="2.0" height="2.0" fill="#000"/>
<rect x="622.50" y="351.34" width="2.0" height="2.0" fill="#000"/>
<rect x="622.50" y="357.61" width="2.0" height="2.0" fill="#000"/>
<rect x="622.50" y="363.88" width="2.0" height="2.0" fill="#000"/>
<rect x="622.50" y="370.15" width="2.0" height="2.0" fill="#000"/>
<text x="576.20" y="331.06" font-size="13" font-weight="bold" text-anchor="middle">*</text>
<text transform="translate(431.8,450.9) rotate(-90)" x="0" y="0" font-size="13.8" font-weight="bold" textLength="67.6" lengthAdjust="spacingAndGlyphs">Weight (g)</text>
<text x="484.20" y="539.60" font-size="14.8" font-weight="bold" font-style="italic" text-anchor="start" fill="#000" textLength="63.60" lengthAdjust="spacingAndGlyphs" >Rps6kb1</text>
<text x="548.10" y="534.63" font-size="9" font-weight="bold" font-style="normal" text-anchor="start" fill="#000" textLength="14.30" lengthAdjust="spacingAndGlyphs" >&#8722;/&#8722;</text>
<text x="571.40" y="539.80" font-size="14.5" font-weight="bold" font-style="normal" text-anchor="start" fill="#000" textLength="109.00" lengthAdjust="spacingAndGlyphs" >Double-mutant</text></svg></body></html>
